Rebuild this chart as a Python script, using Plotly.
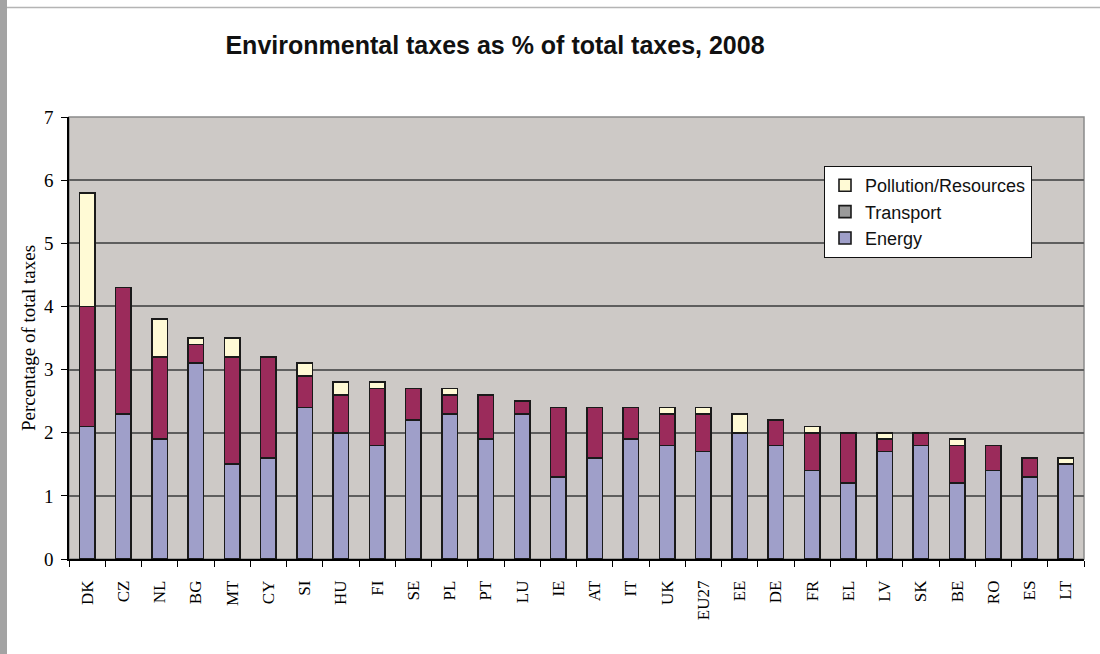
import plotly.graph_objects as go

# Environmental tax revenue by type, % of total taxation, 2008
countries = ["DK", "CZ", "NL", "BG", "MT", "CY", "SI", "HU", "FI", "SE", "PL", "PT", "LU", "IE",
             "AT", "IT", "UK", "EU27", "EE", "DE", "FR", "EL", "LV", "SK", "BE", "RO", "ES", "LT"]
energy = [2.1, 2.3, 1.9, 3.1, 1.5, 1.6, 2.4, 2.0, 1.8, 2.2, 2.3, 1.9, 2.3, 1.3,
          1.6, 1.9, 1.8, 1.7, 2.0, 1.8, 1.4, 1.2, 1.7, 1.8, 1.2, 1.4, 1.3, 1.5]
transport = [1.9, 2.0, 1.3, 0.3, 1.7, 1.6, 0.5, 0.6, 0.9, 0.5, 0.3, 0.7, 0.2, 1.1,
             0.8, 0.5, 0.5, 0.6, 0.0, 0.4, 0.6, 0.8, 0.2, 0.2, 0.6, 0.4, 0.3, 0.0]
pollution = [1.8, 0.0, 0.6, 0.1, 0.3, 0.0, 0.2, 0.2, 0.1, 0.0, 0.1, 0.0, 0.0, 0.0,
             0.0, 0.0, 0.1, 0.1, 0.3, 0.0, 0.1, 0.0, 0.1, 0.0, 0.1, 0.0, 0.0, 0.1]

C_ENERGY = "#9f9fc9"
C_TRANSPORT = "#9b2b5b"
C_TRANSPORT_KEY = "#9a9a9a"
C_POLLUTION = "#fffad5"
OUTLINE = dict(color="#1a1a1a", width=1.6)

SERIF = "Liberation Serif, Times New Roman, serif"
SANS = "Liberation Sans, Arial, sans-serif"


def nonzero(vals):
    return [v if v > 0 else None for v in vals]


fig = go.Figure()
fig.add_trace(go.Bar(x=countries, y=energy, name="Energy", legendrank=3,
                     marker=dict(color=C_ENERGY, line=OUTLINE)))
fig.add_trace(go.Bar(x=countries, y=nonzero(transport), name="Transport", showlegend=False,
                     marker=dict(color=C_TRANSPORT, line=OUTLINE)))
fig.add_trace(go.Bar(x=countries, y=nonzero(pollution), name="Pollution/Resources", legendrank=1,
                     marker=dict(color=C_POLLUTION, line=OUTLINE)))
# key entry for transport (grey swatch in the legend)
fig.add_trace(go.Bar(x=[countries[0]], y=[None], name="Transport", legendrank=2,
                     marker=dict(color=C_TRANSPORT_KEY, line=OUTLINE)))

W, H = 1100, 654
ML, MR, MT, MB = 69, 16, 117, 95
pw = W - ML - MR
ph = H - MT - MB


def px_x(p):
    return (p - ML) / pw


def px_y(p):
    return (H - MB - p) / ph


shapes = [
    # grey strip at the left edge of the page
    dict(type="rect", xref="paper", yref="paper", x0=px_x(0), x1=px_x(7), y0=px_y(H), y1=px_y(0),
         fillcolor="#a3a3a3", line=dict(width=0), layer="below"),
    # thin rule along the top of the page
    dict(type="line", xref="paper", yref="paper", x0=px_x(7), x1=px_x(W), y0=px_y(7.5), y1=px_y(7.5),
         line=dict(color="#b4b4b4", width=1.5)),
    # plot area frame
    dict(type="rect", xref="paper", yref="paper", x0=0, x1=1, y0=0, y1=1,
         line=dict(color="#8a8a8a", width=1.5), layer="below"),
]

fig.update_layout(
    width=W, height=H,
    margin=dict(l=ML, r=MR, t=MT, b=MB),
    barmode="stack", bargap=0.57,
    paper_bgcolor="white", plot_bgcolor="#cdc9c6",
    title=dict(text="<b>Environmental taxes as % of total taxes, 2008</b>",
               font=dict(family=SANS, size=25, color="#111111"),
               x=495 / W, xanchor="center", y=1 - 45 / H, yanchor="middle"),
    legend=dict(x=px_x(824), y=px_y(166), xanchor="left", yanchor="top",
                traceorder="normal", bgcolor="white", bordercolor="#111111", borderwidth=1,
                font=dict(family=SANS, size=18, color="#111111"),
                itemwidth=30, tracegroupgap=0),
    shapes=shapes,
    showlegend=True,
)

fig.update_xaxes(
    type="category", tickangle=-90,
    tickfont=dict(family=SERIF, size=17, color="black"),
    ticklabelstandoff=13,
    showline=True, linecolor="black", linewidth=1.5,
    ticks="outside", tickson="boundaries", ticklen=6, tickcolor="black", tickwidth=1,
    showgrid=False,
)
fig.update_yaxes(
    range=[0, 7], dtick=1, tick0=0,
    tickfont=dict(family=SERIF, size=19, color="black"),
    ticklabelstandoff=4,
    title=dict(text="Percentage of total taxes", font=dict(family=SERIF, size=19, color="black"),
               standoff=3),
    showline=True, linecolor="black", linewidth=1.5,
    ticks="outside", ticklen=6, tickcolor="black", tickwidth=1,
    showgrid=True, gridcolor="#5e5e5e", gridwidth=1.5,
    zeroline=False,
)

fig.write_html("out.html")
